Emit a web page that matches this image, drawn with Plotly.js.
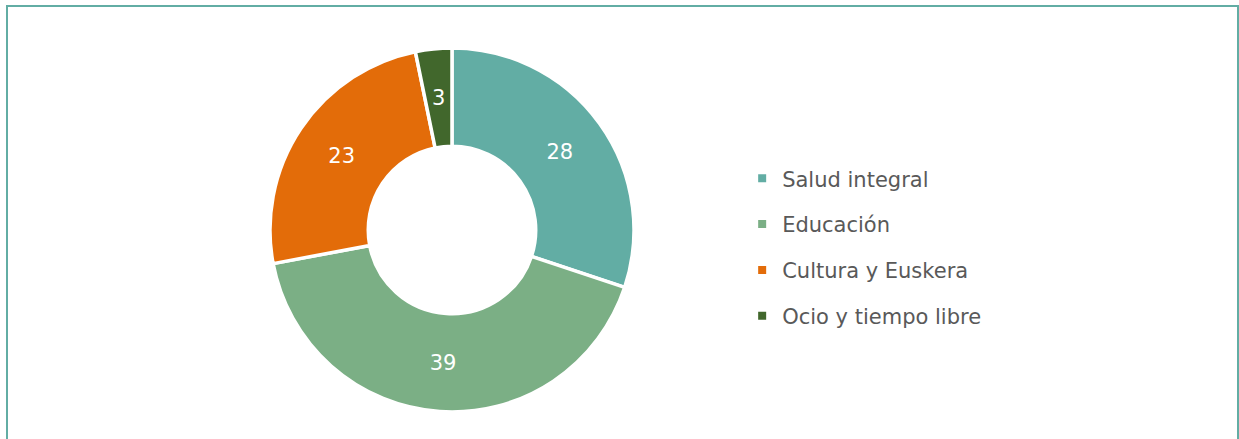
<!DOCTYPE html>
<html>
<head>
<meta charset="utf-8">
<script src="https://cdn.plot.ly/plotly-3.0.1.min.js"></script>
<style>
  html, body { margin: 0; padding: 0; background: #fff; }
  #wrap { position: relative; width: 1239px; height: 439px; overflow: hidden; }
  #frame { position: absolute; left: 6px; top: 5px; width: 1233px; height: 460px; border: 2px solid #62ADA4; box-sizing: border-box; pointer-events: none; }
  #chart { position: absolute; left: 0; top: 0; width: 1239px; height: 439px; }
</style>
</head>
<body>
<div id="wrap">
  <div id="chart"></div>
  <div id="frame"></div>
</div>
<script>
const categories = ["Salud integral", "Educación", "Cultura y Euskera", "Ocio y tiempo libre"];
const values = [28, 39, 23, 3];
const colors = ["#62ADA4", "#7BAF85", "#E36C09", "#41672C"];

const FONT = "DejaVu Sans, Verdana, sans-serif";
const W = 1239, H = 439;
const HOLE = 0.46;
const DOM = { x: [0.2179, 0.5117], y: [0.0615, 0.8907] };

const total = values.reduce((a, b) => a + b, 0);
// tiny slices get their label as an annotation at the slice's mid-angle / mid-radius
const small = values.map(v => v / total < 0.05);

const data = [{
  type: "pie",
  labels: categories,
  values: values,
  hole: HOLE,
  sort: false,
  direction: "clockwise",
  rotation: 0,
  textinfo: "value",
  textposition: small.map(s => s ? "none" : "inside"),
  insidetextorientation: "horizontal",
  insidetextfont: { family: FONT, size: 21, color: "#ffffff" },
  marker: { colors: colors, line: { color: "#ffffff", width: 3.5 } },
  domain: DOM,
  showlegend: false,
  hoverinfo: "label+value"
}];

categories.forEach((c, i) => {
  data.push({
    type: "scatter",
    mode: "markers",
    x: [null], y: [null],
    name: c,
    legendgroup: "g" + i,
    marker: { symbol: "square", size: 8, color: colors[i] },
    showlegend: true,
    hoverinfo: "skip"
  });
});

// annotation positions derived from the data and the pie domain
const cx = (DOM.x[0] + DOM.x[1]) / 2 * W;
const cy = (1 - (DOM.y[0] + DOM.y[1]) / 2) * H;
const R = Math.min((DOM.x[1] - DOM.x[0]) * W, (DOM.y[1] - DOM.y[0]) * H) / 2;
const rMid = R * (1 + HOLE) / 2;
const annotations = [];
let cum = 0;
values.forEach((v, i) => {
  const mid = (cum + v / 2) / total * 2 * Math.PI;
  cum += v;
  if (!small[i]) return;
  const px = cx + rMid * Math.sin(mid);
  const py = cy - rMid * Math.cos(mid);
  annotations.push({
    xref: "paper", yref: "paper",
    x: px / W, y: 1 - py / H,
    xanchor: "center", yanchor: "middle",
    text: String(v), showarrow: false,
    font: { family: FONT, size: 21, color: "#ffffff" }
  });
});

const layout = {
  width: W,
  height: H,
  margin: { l: 0, r: 0, t: 0, b: 0 },
  paper_bgcolor: "#ffffff",
  plot_bgcolor: "rgba(0,0,0,0)",
  xaxis: { visible: false, domain: [0.6, 0.61] },
  yaxis: { visible: false, domain: [0.5, 0.51] },
  showlegend: true,
  legend: {
    x: 0.599, y: 0.437, xanchor: "left", yanchor: "middle",
    traceorder: "grouped",
    tracegroupgap: 15.5,
    font: { family: FONT, size: 21, color: "#595959" },
    bgcolor: "rgba(0,0,0,0)"
  },
  annotations: annotations
};

Plotly.newPlot("chart", data, layout, { displayModeBar: false, staticPlot: true });
</script>
</body>
</html>
